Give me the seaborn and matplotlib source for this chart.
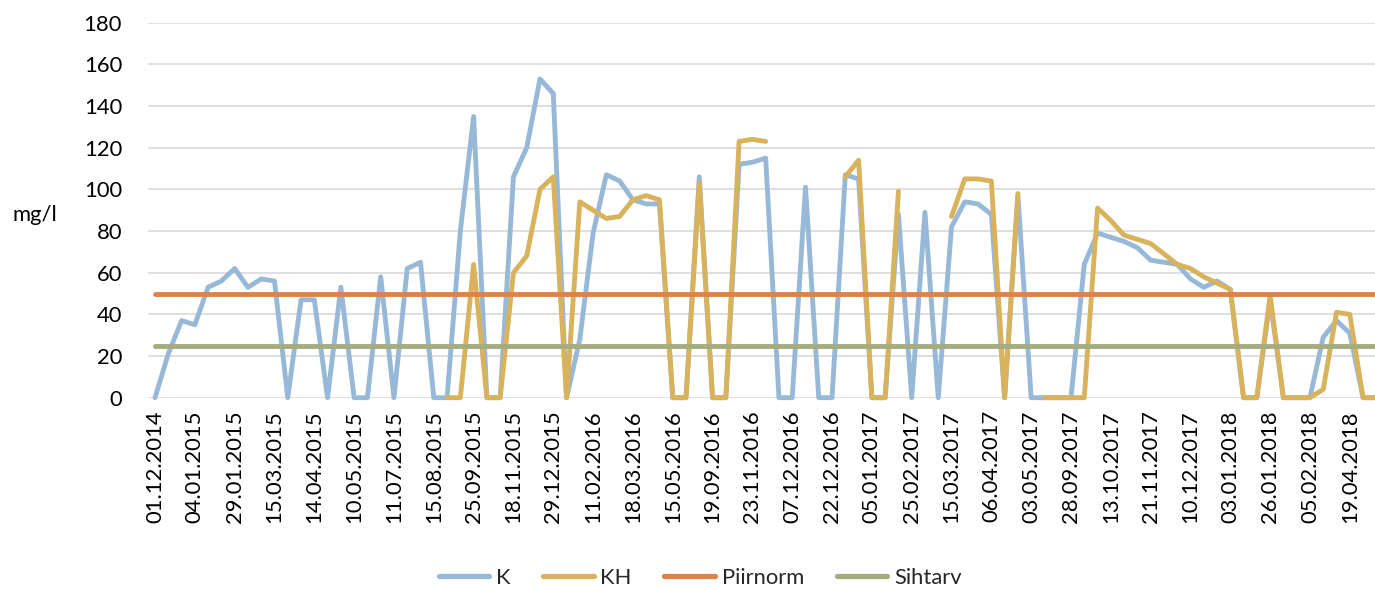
import numpy as np
import pandas as pd
import matplotlib
matplotlib.use("Agg")
import matplotlib.pyplot as plt
from matplotlib.lines import Line2D
import seaborn as sns

# Sampling dates shown on the category axis (every third sample is labelled)
tick_labels = [
    "01.12.2014", "04.01.2015", "29.01.2015", "15.03.2015", "14.04.2015",
    "10.05.2015", "11.07.2015", "15.08.2015", "25.09.2015", "18.11.2015",
    "29.12.2015", "11.02.2016", "18.03.2016", "15.05.2016", "19.09.2016",
    "23.11.2016", "07.12.2016", "22.12.2016", "05.01.2017", "25.02.2017",
    "15.03.2017", "06.04.2017", "03.05.2017", "28.09.2017", "13.10.2017",
    "21.11.2017", "10.12.2017", "03.01.2018", "26.01.2018", "05.02.2018",
    "19.04.2018",
]

# Measured concentrations, mg/l
K = [
    0, 21, 37, 35, 53, 56, 62, 53, 57, 56,
    0, 47, 47, 0, 53, 0, 0, 58, 0, 62,
    65, 0, 0, 80, 135, 0, 0, 106, 120, 153,
    146, 0, 28, 79, 107, 104, 95, 93, 93, 0,
    0, 106, 0, 0, 112, 113, 115, 0, 0, 101,
    0, 0, 107, 105, 0, 0, 88, 0, 89, 0,
    82, 94, 93, 88, 0, 97, 0, 0, 0, 0,
    64, 79, 77, 75, 72, 66, 65, 64, 57, 53,
    56, 52, 0, 0, 47, 0, 0, 0, 29, 37,
    31, 0, 0,
]

KH = [
    None, None, None, None, None, None, None, None, None, None,
    None, None, None, None, None, None, None, None, None, None,
    None, None, 0, 0, 64, 0, 0, 60, 68, 100,
    106, 0, 94, 90, 86, 87, 95, 97, 95, 0,
    0, 103, 0, 0, 123, 124, 123, None, None, None,
    None, None, 106, 114, 0, 0, 99, None, None, None,
    87, 105, 105, 104, 0, 98, None, 0, 0, 0,
    0, 91, 85, 78, 76, 74, 69, 64, 62, 58,
    55, 52, 0, 0, 49, 0, 0, 0, 4, 41,
    40, 0, 0,
]

PIIRNORM = 50
SIHTARV = 25

series_names = ["K", "KH", "Piirnorm", "Sihtarv"]
colors = {
    "K": "#97B9D7",
    "KH": "#D9B25C",
    "Piirnorm": "#DF8248",
    "Sihtarv": "#A4AC80",
}

sns.set_theme(style="white")
plt.rcParams["font.family"] = ["Lato", "DejaVu Sans"]
FS = 15.8

n = len(K)
df = pd.DataFrame({
    "idx": np.arange(n),
    "K": K,
    "KH": pd.array(KH, dtype="Float64").astype(float),
    "Piirnorm": [PIIRNORM] * n,
    "Sihtarv": [SIHTARV] * n,
})
# KH has gaps; each unbroken run becomes its own unit so the gaps stay open
df["kh_run"] = df["KH"].isna().cumsum()

fig = plt.figure(figsize=(13.75, 5.89), dpi=100)
ax = fig.add_axes([0.1079, 0.3248, 0.8921, 0.6367])

line_kw = dict(linewidth=3.5, solid_capstyle="round", solid_joinstyle="round")

sns.lineplot(data=df, x="idx", y="K", color=colors["K"], ax=ax, **line_kw)
sns.lineplot(data=df.dropna(subset=["KH"]), x="idx", y="KH", units="kh_run",
             estimator=None, color=colors["KH"], ax=ax, **line_kw)
sns.lineplot(data=df, x="idx", y="Piirnorm", color=colors["Piirnorm"], ax=ax, **line_kw)
sns.lineplot(data=df, x="idx", y="Sihtarv", color=colors["Sihtarv"], ax=ax, **line_kw)
for ln in ax.lines:
    ln.set_clip_on(False)

ax.set_ylim(0, 180)
ax.set_xlim(-0.5, 91.9)
ax.set_yticks(range(0, 181, 20))
ax.set_xticks(np.arange(0, n, 3)[:len(tick_labels)])
ax.set_xticklabels(tick_labels, rotation=90, fontsize=FS, color="#000000")
ax.tick_params(axis="y", labelsize=FS, colors="#000000", length=0, pad=19)
ax.tick_params(axis="x", length=0, pad=9)
ax.yaxis.grid(True, color="#D9D9D9", linewidth=1.2)
ax.xaxis.grid(False)
ax.set_axisbelow(True)
for sp in ax.spines.values():
    sp.set_visible(False)
ax.set_xlabel("")
ax.set_ylabel("")

fig.text(12 / 1375, 1 - 215 / 589, "mg/l", fontsize=FS, ha="left", va="center", color="#000000")

handles = [Line2D([], [], color=colors[s], linewidth=3.8, solid_capstyle="round") for s in series_names]
fig.legend(handles, series_names, loc="center", ncol=4, frameon=False,
           bbox_to_anchor=(700 / 1375, 1 - 578 / 589), fontsize=FS,
           handlelength=2.3, handletextpad=0.3, columnspacing=1.5)

fig.savefig("out.png", dpi=100, facecolor="white")
